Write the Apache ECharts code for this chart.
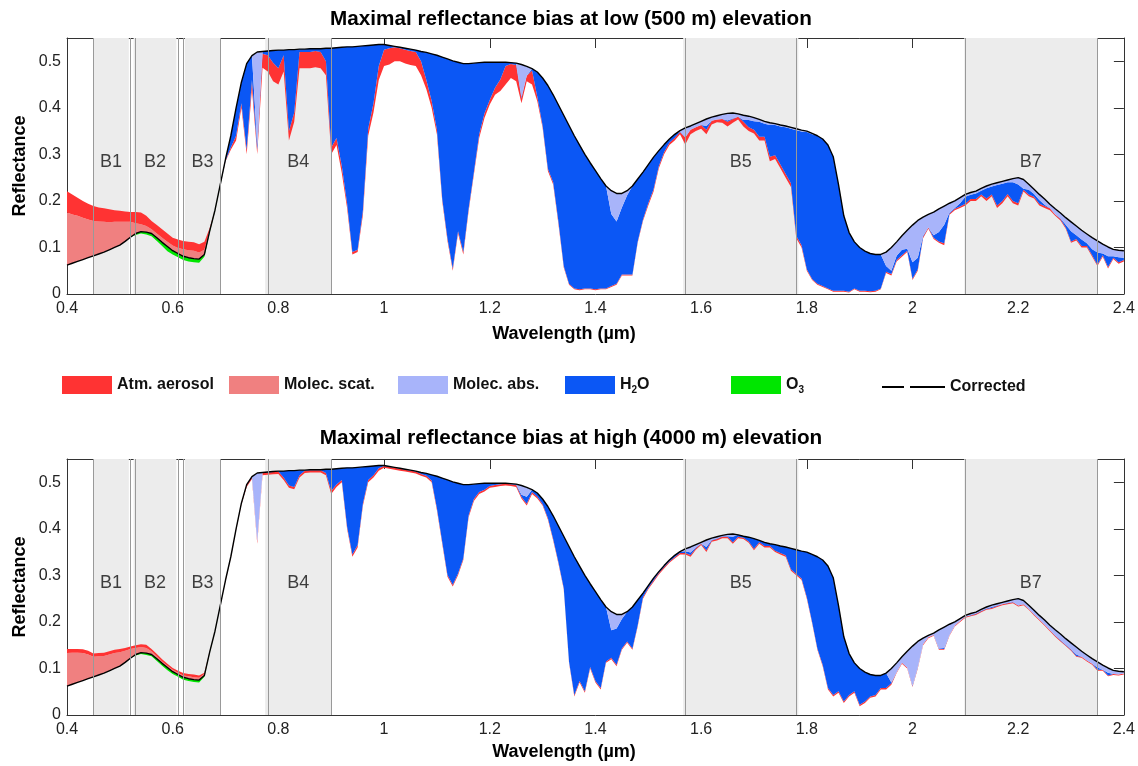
<!DOCTYPE html>
<html><head><meta charset="utf-8">
<script src="https://cdn.jsdelivr.net/npm/echarts@6/dist/echarts.min.js"></script>
<style>html,body{margin:0;padding:0;background:#fff}#chart{width:1138px;height:766px}</style>
</head><body><div id="chart"></div>
<script>
// ---------------- DATA ----------------
const wavelength = [
.4,.41,.42,.43,.44,.45,.46,.47,.48,.49,
.5,.51,.52,.53,.54,.55,.56,.57,.58,.59,
.6,.61,.62,.63,.64,.65,.66,.67,.68,.69,
.7,.71,.72,.73,.74,.75,.76,.77,.78,.79,
.8,.81,.82,.83,.84,.85,.86,.87,.88,.89,
.9,.91,.92,.93,.94,.95,.96,.97,.98,.99,
1,1.01,1.02,1.03,1.04,1.05,1.06,1.07,1.08,1.09,
1.1,1.11,1.12,1.13,1.14,1.15,1.16,1.17,1.18,1.19,
1.2,1.21,1.22,1.23,1.24,1.25,1.26,1.27,1.28,1.29,
1.3,1.31,1.32,1.33,1.34,1.35,1.36,1.37,1.38,1.39,
1.4,1.41,1.42,1.43,1.44,1.45,1.46,1.47,1.48,1.49,
1.5,1.51,1.52,1.53,1.54,1.55,1.56,1.57,1.58,1.59,
1.6,1.61,1.62,1.63,1.64,1.65,1.66,1.67,1.68,1.69,
1.7,1.71,1.72,1.73,1.74,1.75,1.76,1.77,1.78,1.79,
1.8,1.81,1.82,1.83,1.84,1.85,1.86,1.87,1.88,1.89,
1.9,1.91,1.92,1.93,1.94,1.95,1.96,1.97,1.98,1.99,
2,2.01,2.02,2.03,2.04,2.05,2.06,2.07,2.08,2.09,
2.1,2.11,2.12,2.13,2.14,2.15,2.16,2.17,2.18,2.19,
2.2,2.21,2.22,2.23,2.24,2.25,2.26,2.27,2.28,2.29,
2.3,2.31,2.32,2.33,2.34,2.35,2.36,2.37,2.38,2.39,
2.4];

// corrected (surface) reflectance, shared by both panels
const corrected = [
.062,.066,.070,.074,.078,.082,.086,.090,.095,.100,
.105,.113,.122,.130,.134,.133,.130,.121,.111,.102,
.093,.087,.081,.078,.076,.075,.085,.135,.180,.235,
.290,.340,.400,.455,.495,.512,.520,.521,.522,.523,
.524,.524,.525,.525,.526,.526,.527,.527,.527,.528,
.528,.529,.530,.531,.531,.532,.533,.534,.535,.536,
.536,.534,.532,.530,.528,.526,.524,.521,.519,.516,
.513,.509,.505,.501,.498,.495,.495,.496,.497,.498,
.498,.498,.498,.498,.497,.496,.493,.489,.484,.477,
.464,.448,.428,.406,.384,.362,.340,.320,.300,.282,
.265,.248,.232,.222,.216,.216,.222,.232,.247,.262,
.278,.294,.308,.321,.333,.343,.351,.357,.361,.366,
.371,.376,.380,.383,.386,.388,.389,.387,.384,.382,
.379,.375,.371,.368,.366,.363,.361,.358,.355,.352,
.350,.345,.340,.333,.320,.295,.235,.168,.132,.112,
.100,.092,.087,.085,.085,.090,.100,.112,.125,.137,
.148,.158,.165,.171,.176,.183,.189,.195,.200,.207,
.214,.218,.221,.227,.232,.236,.239,.242,.245,.248,
.250,.246,.236,.225,.214,.204,.193,.183,.174,.164,
.155,.146,.137,.129,.121,.114,.107,.101,.096,.094,
.093];

// ---- Low (500 m) panel: visible part 0.40-0.69 (thickness above / below corrected)
const lowScat = [
.113,.105,.098,.090,.082,.075,.070,.065,.059,.055,
.050,.042,.033,.022,.016,.013,.009,.009,.010,.010,
.011,.012,.015,.016,.017,.014,.010,.003,0,0];
const lowAerUp = [
.046,.043,.039,.036,.034,.032,.030,.029,.028,.025,
.024,.022,.021,.024,.025,.022,.018,.018,.018,.018,
.017,.018,.018,.018,.018,.018,.017,.004,0,0];
const lowO3 = [
0,0,0,0,0,0,0,0,0,0,
0,0,0,.003,.004,.005,.006,.007,.008,.010,
.008,.008,.008,.008,.008,.008,.005,.003,.002,.002];
// ---- Low panel: 0.70-2.40 observed bottom, aerosol and molecular absorption thickness
const lowObs = [
.285,.31,.33,.4,.3,.44,.3,.486,.478,.457,
.45,.478,.33,.37,.485,.485,.485,.487,.485,.47,
.3,.32,.26,.185,.085,.09,.17,.34,.39,.46,
.49,.493,.5,.5,.495,.492,.49,.47,.44,.4,
.343,.2,.114,.05,.13,.085,.178,.257,.335,.378,
.407,.428,.436,.45,.464,.457,.41,.457,.45,.414,
.357,.264,.235,.15,.057,.02,.01,.008,.01,.01,
.008,.01,.01,.015,.02,.04,.04,.04,.11,.157,
.19,.22,.27,.3,.32,.33,.343,.321,.343,.35,
.355,.343,.364,.369,.368,.36,.368,.375,.36,.35,
.345,.33,.33,.285,.29,.27,.25,.23,.12,.1,
.05,.03,.02,.015,.01,.005,.005,.005,.003,.01,
.005,.005,.004,.005,.01,.045,.04,.07,.08,.09,
.03,.05,.12,.14,.118,.11,.105,.17,.18,.185,
.19,.2,.2,.21,.2,.21,.185,.195,.21,.195,
.19,.22,.21,.205,.19,.185,.18,.168,.158,.14,
.11,.115,.1,.1,.08,.06,.08,.055,.075,.065,
.07];
const lowAer = [
.002,.005,.010,.010,.010,.020,.010,.030,.035,.040,
.035,.035,.020,.020,.035,.035,.035,.035,.035,.030,
.015,.015,.015,.010,.005,.005,.010,.015,.020,.030,
.035,.035,.030,.028,.030,.030,.030,.030,.020,.015,
.010,.005,.005,.005,.005,.005,.005,.005,.008,.010,
.010,.015,.025,.040,.030,.035,.010,.012,.030,.010,
.005,.005,.005,.005,.003,.002,.002,.002,.002,.002,
.002,.002,.002,.002,.002,.002,.002,.002,.003,.003,
.005,.005,.005,.005,.005,.005,.005,.015,.010,.008,
.008,.010,.008,.006,.008,.010,.008,.006,.010,.008,
.008,.008,.008,.010,.008,.008,.008,.008,.005,.005,
.003,.002,.002,.002,.002,.002,.002,.002,.002,.002,
.002,.002,.002,.002,.002,.003,.003,.003,.003,.003,
.003,.003,.003,.003,.003,.003,.004,.003,.003,.003,
.004,.004,.004,.004,.005,.004,.005,.005,.005,.005,
.005,.004,.004,.004,.004,.004,.004,.003,.003,.003,
.003,.003,.003,.003,.003,.003,.003,.003,.003,.003,
.003];
const lowMabs = [
0,0,0,0,0,0,.200,0,0,0,
0,0,0,0,0,0,0,0,0,0,
0,0,0,0,0,0,0,0,0,0,
0,0,0,0,0,0,0,0,0,0,
0,0,0,0,0,0,0,0,0,0,
0,0,0,0,0,0,.070,.020,0,0,
0,0,0,0,0,0,0,0,0,0,
0,0,0,.050,.060,.030,.010,0,0,0,
0,0,0,0,0,0,.002,.020,.008,.008,
.008,.015,.008,.008,.010,.015,.012,.006,.010,.008,
.008,.005,.005,.005,.003,.003,.003,.003,.003,.003,
.002,.002,0,0,0,0,0,0,0,0,
0,0,0,0,0,.030,.050,.030,.030,.040,
.080,.080,.040,.028,.050,.050,.040,.020,.015,.012,
.005,.005,.005,.005,.005,.005,.005,.005,.005,.008,
.015,.020,.012,.010,.012,.012,.010,.012,.012,.015,
.020,.020,.020,.020,.025,.025,.020,.020,.015,.015,
.015];

// ---- High (4000 m) panel
const highScat = [
.071,.068,.064,.059,.052,.043,.040,.037,.035,.033,
.030,.025,.020,.014,.012,.011,.007,.005,.004,.004,
.004,.004,.004,.005,.005,.005,.003,.001,0,0];
const highAerUp = [
.009,.008,.008,.008,.008,.007,.007,.007,.007,.007,
.007,.006,.005,.006,.006,.007,.005,.005,.005,.004,
.004,.004,.005,.005,.006,.005,.003,.001,0,0];
const highO3 = [
0,0,0,0,0,0,0,0,0,0,
0,0,0,.002,.003,.004,.004,.005,.005,.006,
.005,.005,.005,.005,.005,.005,.003,.002,.001,.001];
const highObs = [
.288,.338,.398,.452,.49,.507,.368,.515,.516,.517,
.518,.505,.488,.485,.51,.52,.521,.521,.521,.515,
.475,.49,.5,.4,.34,.36,.45,.5,.51,.525,
.531,.529,.527,.525,.523,.521,.519,.514,.51,.5,
.44,.368,.297,.276,.3,.333,.425,.46,.475,.48,
.488,.49,.492,.493,.492,.49,.465,.45,.475,.465,
.45,.42,.375,.325,.27,.112,.04,.07,.048,.1,
.07,.055,.112,.12,.105,.14,.155,.14,.19,.25,
.27,.286,.302,.315,.327,.336,.345,.345,.34,.355,
.365,.35,.372,.375,.38,.38,.368,.38,.378,.37,
.354,.368,.36,.36,.35,.345,.34,.31,.3,.29,
.25,.197,.14,.105,.055,.04,.048,.026,.04,.048,
.019,.026,.037,.04,.055,.055,.065,.09,.11,.1,
.06,.1,.15,.165,.17,.14,.14,.17,.19,.2,
.209,.212,.215,.221,.226,.228,.232,.236,.238,.24,
.233,.236,.226,.214,.203,.192,.18,.168,.158,.148,
.138,.125,.123,.115,.108,.095,.095,.083,.086,.085,
.087];
const highAer = [
.002,.002,.002,.003,.004,.004,.005,.005,.005,.005,
.005,.005,.005,.005,.005,.005,.005,.005,.005,.005,
.006,.005,.005,.005,.005,.005,.005,.005,.005,.005,
.004,.004,.004,.004,.004,.004,.004,.004,.004,.004,
.004,.004,.004,.004,.004,.004,.004,.004,.004,.004,
.004,.004,.004,.004,.004,.004,.004,.004,.004,.004,
.003,.003,.003,.003,.003,.003,.003,.003,.003,.003,
.003,.003,.003,.003,.003,.003,.003,.003,.003,.003,
.003,.003,.003,.003,.003,.003,.003,.003,.004,.003,
.003,.004,.003,.003,.003,.003,.003,.003,.003,.003,
.003,.003,.003,.003,.003,.003,.003,.003,.003,.003,
.003,.003,.003,.003,.003,.003,.003,.003,.003,.003,
.003,.003,.003,.003,.003,.003,.003,.002,.002,.002,
.002,.002,.002,.002,.002,.002,.002,.002,.002,.002,
.002,.002,.002,.002,.002,.002,.002,.002,.002,.002,
.002,.002,.002,.002,.002,.002,.002,.002,.002,.002,
.002,.002,.002,.002,.002,.002,.002,.002,.002,.002,
.002];
const highMabs = [
0,0,0,0,0,0,.147,0,0,0,
0,0,0,0,0,0,0,0,0,0,
0,0,0,0,0,0,0,0,0,0,
0,0,0,0,0,0,0,0,0,0,
0,0,0,0,0,0,0,0,0,0,
0,0,0,0,0,0,.020,.020,0,0,
0,0,0,0,0,0,0,0,0,0,
0,0,0,.040,.030,.010,0,0,0,0,
0,0,0,0,0,0,0,.005,.012,.006,
.003,.015,.004,.004,.002,.004,.006,0,0,0,
0,0,0,0,0,0,0,0,0,0,
0,0,0,0,0,0,0,0,0,0,
0,0,0,0,0,0,.030,.020,.013,.035,
.085,.055,.013,.004,.004,.040,.045,.023,.008,.005,
.003,.003,.003,.003,.003,.004,.004,.004,.004,.005,
.015,.008,.008,.009,.009,.010,.011,.012,.013,.013,
.014,.016,.012,.012,.011,.012,.010,.010,.008,.007,
.004];

// spectral bands (Landsat ETM+)
const bandNames = ['B1','B2','B3','B4','B5','B7'];
const bandStart = [0.45, 0.526, 0.623, 0.775, 1.566, 2.098];
const bandEnd   = [0.517, 0.607, 0.69, 0.90, 1.784, 2.35];

const panelTitles = ['Maximal reflectance bias at low (500 m) elevation',
                     'Maximal reflectance bias at high (4000 m) elevation'];

// ---------------- STYLE ----------------
const COL = {aer:'#ff3333', scat:'#f08080', mabs:'#a8b4fa', h2o:'#0b57f5', o3:'#00e600', corr:'#000000'};
const FONT = "'Liberation Sans', Arial, Helvetica, sans-serif";

// ---------------- BUILD ----------------
// cumulative boundaries, bottom to top: obs | aerosol | H2O | molec.abs | O3 | (corrected) | scat | aerosol
function buildPanel(vis, nir) {
  const nv = vis.scat.length;
  const b = [[], [], [], [], [], [], []];
  for (let i = 0; i < wavelength.length; i++) {
    const c = corrected[i];
    let obs, a = 0, m = 0, z = 0, s = 0, u = 0;
    if (i < nv) { z = vis.o3[i]; s = vis.scat[i]; u = vis.aerUp[i]; obs = c - z; }
    else {
      const j = i - nv;
      obs = Math.min(nir.obs[j], c);
      a = Math.max(0, Math.min(nir.aer[j], c - obs));
      m = Math.max(0, Math.min(nir.mabs[j], c - obs - a));
    }
    b[0].push(obs);
    b[1].push(obs + a);
    b[2].push(c - z - m);
    b[3].push(c - z);
    b[4].push(c);
    b[5].push(c + s);
    b[6].push(c + s + u);
  }
  return b;
}
const panels = [
  buildPanel({scat:lowScat, aerUp:lowAerUp, o3:lowO3}, {obs:lowObs, aer:lowAer, mabs:lowMabs}),
  buildPanel({scat:highScat, aerUp:highAerUp, o3:highO3}, {obs:highObs, aer:highAer, mabs:highMabs})
];

const grids = [
  {left:67, right:13, top:38, height:256},
  {left:67, right:13, top:459, height:256}
];

function bandSeries(name, lower, upper, color, xi, yi) {
  return {
    type:'custom', name:name, xAxisIndex:xi, yAxisIndex:yi, silent:true, animation:false, z:2,
    itemStyle:{color:color}, data:[[wavelength[0], lower[0]]],
    renderItem: function (params, api) {
      const pts = [];
      for (let i = 0; i < wavelength.length; i++) pts.push(api.coord([wavelength[i], upper[i]]));
      for (let i = wavelength.length - 1; i >= 0; i--) pts.push(api.coord([wavelength[i], lower[i]]));
      return {type:'polygon', shape:{points:pts}, style:{fill:color, stroke:null}};
    }
  };
}

const xAxes = [], yAxes = [], series = [];
panels.forEach((B, p) => {
  xAxes.push({gridIndex:p, type:'value', min:0.4, max:2.4, interval:0.2, position:'bottom',
    axisLine:{show:true, onZero:false, lineStyle:{color:'#333', width:1}}, axisTick:{show:false},
    splitLine:{show:false},
    axisLabel:{fontFamily:FONT, fontSize:16, color:'#222', margin:7}});
  xAxes.push({gridIndex:p, type:'value', min:0.4, max:2.4, interval:0.2, position:'top',
    axisLine:{show:true, onZero:false, lineStyle:{color:'#333', width:1}},
    axisTick:{show:true, inside:true, length:10, lineStyle:{color:'#333'}},
    axisLabel:{show:false}, splitLine:{show:false}});
  yAxes.push({gridIndex:p, type:'value', min:0, max:0.55, interval:0.1, position:'left',
    axisLine:{show:true, onZero:false, lineStyle:{color:'#333', width:1}}, axisTick:{show:false},
    splitLine:{show:false},
    axisLabel:{fontFamily:FONT, fontSize:16, color:'#222', margin:6, showMaxLabel:false}});
  yAxes.push({gridIndex:p, type:'value', min:0, max:0.55, interval:0.1, position:'right',
    axisLine:{show:true, onZero:false, lineStyle:{color:'#333', width:1}},
    axisTick:{show:true, inside:true, length:10, lineStyle:{color:'#333'}},
    axisLabel:{show:false}, splitLine:{show:false}});

  const xi = 2 * p, yi = 2 * p;
  series.push(bandSeries('Atm. aerosol', B[0], B[1], COL.aer, xi, yi));
  series.push(bandSeries('H2O', B[1], B[2], COL.h2o, xi, yi));
  series.push(bandSeries('Molec. abs.', B[2], B[3], COL.mabs, xi, yi));
  series.push(bandSeries('O3', B[3], B[4], COL.o3, xi, yi));
  series.push(bandSeries('Molec. scat.', B[4], B[5], COL.scat, xi, yi));
  series.push(bandSeries('Atm. aerosol', B[5], B[6], COL.aer, xi, yi));

  series.push({type:'line', name:'Corrected', xAxisIndex:xi, yAxisIndex:yi,
    data: wavelength.map((x, i) => [x, corrected[i]]),
    showSymbol:false, symbol:'none', silent:true, animation:false, color:COL.corr,
    lineStyle:{color:COL.corr, width:1.4}, z:4,
    markArea:{silent:true, z:1, itemStyle:{color:'#ececec'},
      data: bandNames.map((n, k) => [{xAxis:bandStart[k]}, {xAxis:bandEnd[k]}])},
    markLine:{silent:true, symbol:['none','none'], label:{show:false}, z:6,
      lineStyle:{color:'#999', width:1, type:'solid'},
      data: bandStart.concat(bandEnd).map(v => ({xAxis:v}))}
  });
  series.push({type:'scatter', name:'_bands' + p, xAxisIndex:xi, yAxisIndex:yi, silent:true,
    animation:false, symbolSize:1, itemStyle:{color:'transparent'}, z:7,
    data: bandNames.map((n, k) => ({name:n, value:[(bandStart[k] + bandEnd[k]) / 2, 0.283]})),
    label:{show:true, position:'inside', formatter:'{b}', fontFamily:FONT, fontSize:18, color:'#111'}});
});

const legendItems = [
  {name:'Atm. aerosol', left:62, color:COL.aer},
  {name:'Molec. scat.', left:229, color:COL.scat},
  {name:'Molec. abs.', left:398, color:COL.mabs},
  {name:'H2O', left:565, color:COL.h2o, fmt:'H{s|2}O'},
  {name:'O3', left:731, color:COL.o3, fmt:'O{s|3}'}
];
const legTextStyle = {fontFamily:FONT, fontWeight:'bold', fontSize:16, color:'#111',
  rich:{s:{fontFamily:FONT, fontWeight:'bold', fontSize:10, color:'#111', padding:[10,0,0,0]}}};
const legends = legendItems.map(it => ({
  left:it.left, top:376, padding:0, itemWidth:50, itemHeight:18, itemGap:0, selectedMode:false,
  data:[{name:it.name, icon:'rect', itemStyle:{color:it.color, borderWidth:0}}],
  formatter: it.fmt ? it.fmt : '{name}', textStyle:legTextStyle
}));
legends.push({left:882, top:379, padding:0, itemWidth:63, itemHeight:2, selectedMode:false,
  data:[{name:'Corrected', icon:'path://M0,0h22v2h-22z M28,0h35v2h-35z', itemStyle:{color:'#000', borderWidth:0}}],
  textStyle:legTextStyle});

const graphic = [
  {type:'text', x:571, y:19, style:{text:panelTitles[0], font:"bold 20.7px " + FONT, fill:'#000', textAlign:'center', textVerticalAlign:'middle'}},
  {type:'text', x:571, y:438, style:{text:panelTitles[1], font:"bold 20.7px " + FONT, fill:'#000', textAlign:'center', textVerticalAlign:'middle'}},
  {type:'text', x:564, y:334, style:{text:'Wavelength (µm)', font:"bold 18px " + FONT, fill:'#000', textAlign:'center', textVerticalAlign:'middle'}},
  {type:'text', x:564, y:752, style:{text:'Wavelength (µm)', font:"bold 18px " + FONT, fill:'#000', textAlign:'center', textVerticalAlign:'middle'}},
  {type:'text', x:20, y:166, rotation:Math.PI/2, style:{text:'Reflectance', font:"bold 18px " + FONT, fill:'#000', textAlign:'center', textVerticalAlign:'middle'}},
  {type:'text', x:20, y:587, rotation:Math.PI/2, style:{text:'Reflectance', font:"bold 18px " + FONT, fill:'#000', textAlign:'center', textVerticalAlign:'middle'}}
];

const chart = echarts.init(document.getElementById('chart'), null, {renderer:'canvas'});
chart.setOption({
  animation:false,
  backgroundColor:'#fff',
  grid:grids, xAxis:xAxes, yAxis:yAxes, series:series, legend:legends, graphic:graphic
});
</script></body></html>
